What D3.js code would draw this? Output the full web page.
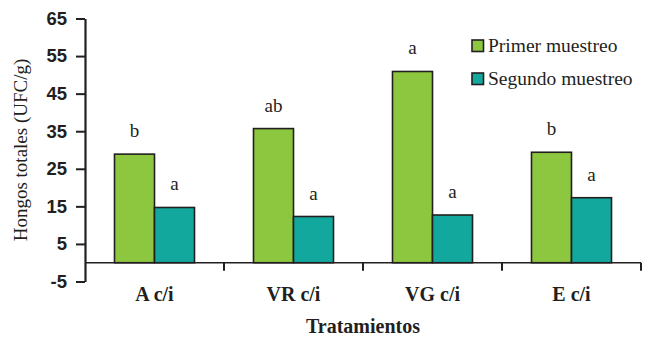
<!DOCTYPE html>
<html>
<head>
<meta charset="utf-8">
<script src="https://cdn.jsdelivr.net/npm/d3@7"></script>
<style>
  html, body { margin: 0; padding: 0; background: #fff; }
  svg { display: block; }
</style>
</head>
<body>
<svg id="chart" width="645" height="339"></svg>
<script>
// Treatments and the two sampling series (total fungi, UFC/g)
const categories = ["A c/i", "VR c/i", "VG c/i", "E c/i"];
const seriesNames = ["Primer muestreo", "Segundo muestreo"];
const primerMuestreo = [28.9, 35.7, 50.9, 29.4];
const segundoMuestreo = [14.7, 12.3, 12.7, 17.3];
const primerLetters = ["b", "ab", "a", "b"];
const segundoLetters = ["a", "a", "a", "a"];
const yTicks = [-5, 5, 15, 25, 35, 45, 55, 65];

const colors = ["#8DC63F", "#13A89E"];
const ink = "#231F20";

const svg = d3.select("#chart");
const plotLeft = 85, plotRight = 641, plotTop = 18.5, plotBottom = 281.5;
const barW = 40;

const y = d3.scaleLinear().domain([-5, 65]).range([plotBottom, plotTop]);
const x0 = d3.scaleBand().domain(categories).range([plotLeft, plotRight]).padding(0);
const x1 = d3.scaleBand().domain(seriesNames).range([0, barW * 2]).padding(0);
const groupOffset = (x0.bandwidth() - barW * 2) / 2;

const rows = categories.map((c, i) => ({
  cat: c,
  vals: [
    { s: seriesNames[0], v: primerMuestreo[i], t: primerLetters[i], k: 0 },
    { s: seriesNames[1], v: segundoMuestreo[i], t: segundoLetters[i], k: 1 }
  ]
}));

// Bars
const groups = svg.append("g").selectAll("g").data(rows).join("g")
  .attr("transform", d => `translate(${x0(d.cat) + groupOffset},0)`);

groups.selectAll("rect").data(d => d.vals).join("rect")
  .attr("x", d => x1(d.s))
  .attr("y", d => y(d.v))
  .attr("width", x1.bandwidth())
  .attr("height", d => y(0) - y(d.v))
  .attr("fill", d => colors[d.k])
  .attr("stroke", ink)
  .attr("stroke-width", 1.6);

// Significance letters above each bar
groups.selectAll("text").data(d => d.vals).join("text")
  .attr("x", d => x1(d.s) + x1.bandwidth() / 2)
  .attr("y", d => y(d.v) - 17)
  .attr("text-anchor", "middle")
  .attr("font-family", "'Liberation Serif', 'Times New Roman', serif")
  .attr("font-size", 19)
  .attr("fill", ink)
  .text(d => d.t);

// Zero baseline with category separator ticks
svg.append("line")
  .attr("x1", plotLeft).attr("x2", plotRight)
  .attr("y1", y(0)).attr("y2", y(0))
  .attr("stroke", ink).attr("stroke-width", 1.5);
svg.append("g").selectAll("line")
  .data(categories.slice(1).map(c => x0(c)).concat([plotRight]))
  .join("line")
  .attr("x1", d => d).attr("x2", d => d)
  .attr("y1", y(0)).attr("y2", y(0) + 8)
  .attr("stroke", ink).attr("stroke-width", 2);

// Category labels
svg.append("g").selectAll("text").data(categories).join("text")
  .attr("x", d => x0(d) + x0.bandwidth() / 2)
  .attr("y", 301)
  .attr("text-anchor", "middle")
  .attr("font-family", "'Liberation Serif', 'Times New Roman', serif")
  .attr("font-weight", "bold")
  .attr("font-size", 20)
  .attr("fill", ink)
  .text(d => d);

// Y axis (plain hyphen for negatives)
const yAxis = d3.axisLeft(y).tickValues(yTicks)
  .tickFormat(d => String(d))
  .tickSizeInner(9).tickSizeOuter(0).tickPadding(9);
const ya = svg.append("g").attr("transform", `translate(${plotLeft},0)`).call(yAxis);
ya.select(".domain").attr("stroke", ink).attr("stroke-width", 2.2);
ya.selectAll(".tick line").attr("stroke", ink).attr("stroke-width", 2);
ya.selectAll(".tick text")
  .attr("font-family", "'Liberation Sans', Arial, sans-serif")
  .attr("font-weight", "bold")
  .attr("font-size", 18.5)
  .attr("fill", ink);

// Axis titles
svg.append("text")
  .attr("transform", `translate(27,${(plotTop + plotBottom) / 2}) rotate(-90)`)
  .attr("text-anchor", "middle")
  .attr("font-family", "'Liberation Serif', 'Times New Roman', serif")
  .attr("font-size", 19)
  .attr("fill", ink)
  .text("Hongos totales (UFC/g)");

svg.append("text")
  .attr("x", (plotLeft + plotRight) / 2)
  .attr("y", 333)
  .attr("text-anchor", "middle")
  .attr("font-family", "'Liberation Serif', 'Times New Roman', serif")
  .attr("font-weight", "bold")
  .attr("font-size", 20)
  .attr("fill", ink)
  .text("Tratamientos");

// Legend
const legend = svg.append("g").attr("transform", "translate(472,40)");
const li = legend.selectAll("g").data(seriesNames).join("g")
  .attr("transform", (d, i) => `translate(0,${i * 33})`);
li.append("rect")
  .attr("width", 11.5).attr("height", 11.5)
  .attr("fill", (d, i) => colors[i])
  .attr("stroke", ink).attr("stroke-width", 1.6);
li.append("text")
  .attr("x", 16).attr("y", 12)
  .attr("font-family", "'Liberation Serif', 'Times New Roman', serif")
  .attr("font-size", 19.5)
  .attr("fill", ink)
  .text(d => d);
</script>
</body>
</html>
